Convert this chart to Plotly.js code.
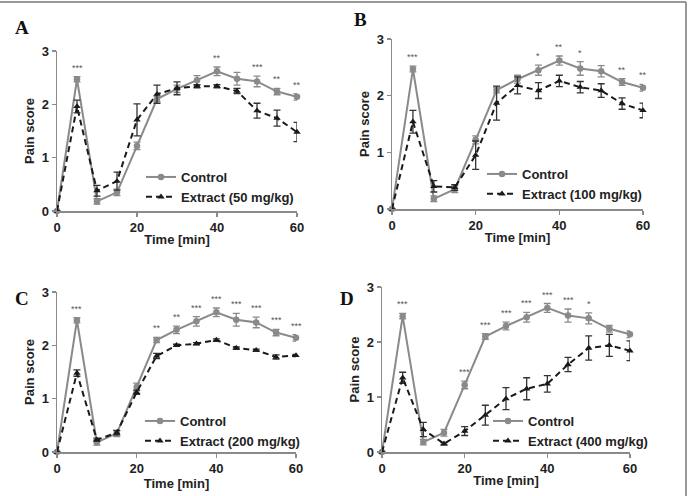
<!DOCTYPE html>
<html>
<head>
<meta charset="utf-8">
<script src="https://cdn.plot.ly/plotly-3.0.1.min.js"></script>
<style>html,body{margin:0;padding:0;background:#fff;}#chart{width:689px;height:496px;}</style>
</head>
<body>
<div id="chart"></div>
<script>
// ---- data ----
const time = [0, 5, 10, 15, 20, 25, 30, 35, 40, 45, 50, 55, 60];
const controlMean = [0, 2.47, 0.18, 0.35, 1.22, 2.10, 2.29, 2.45, 2.62, 2.48, 2.43, 2.24, 2.14];
const controlErr  = [0, 0.05, 0.05, 0.06, 0.07, 0.05, 0.07, 0.09, 0.08, 0.12, 0.10, 0.06, 0.06];

const extract50Mean  = [0, 1.96, 0.38, 0.56, 1.71, 2.19, 2.30, 2.34, 2.34, 2.25, 1.88, 1.74, 1.48];
const extract50Err   = [0, 0.12, 0.10, 0.17, 0.30, 0.17, 0.12, 0.03, 0.03, 0.05, 0.14, 0.15, 0.18];
const extract100Mean = [0, 1.54, 0.40, 0.38, 0.95, 1.87, 2.18, 2.09, 2.26, 2.15, 2.09, 1.86, 1.74];
const extract100Err  = [0, 0.20, 0.10, 0.05, 0.25, 0.30, 0.15, 0.14, 0.10, 0.10, 0.12, 0.10, 0.13];
const extract200Mean = [0, 1.48, 0.23, 0.36, 1.12, 1.80, 2.00, 2.03, 2.10, 1.95, 1.91, 1.78, 1.81];
const extract200Err  = [0, 0.06, 0.03, 0.04, 0.04, 0.05, 0.02, 0.02, 0.02, 0.02, 0.02, 0.04, 0.02];
const extract400Mean = [0, 1.35, 0.41, 0.15, 0.38, 0.67, 0.97, 1.15, 1.24, 1.59, 1.89, 1.94, 1.84];
const extract400Err  = [0, 0.10, 0.13, 0.02, 0.08, 0.18, 0.20, 0.20, 0.15, 0.13, 0.22, 0.20, 0.18];

const extractNames = ["Extract (50 mg/kg)", "Extract (100 mg/kg)", "Extract (200 mg/kg)", "Extract (400 mg/kg)"];
const panelLetters = ["A", "B", "C", "D"];
// significance marks above the control points, by time index
const sigA = ["", "***", "", "", "", "", "", "", "**", "", "***", "**", "**"];
const sigB = ["", "***", "", "", "", "", "", "*", "**", "*", "", "**", "**"];
const sigC = ["", "***", "", "", "", "**", "**", "***", "***", "***", "***", "***", "***"];
const sigD = ["", "***", "", "", "***", "***", "***", "***", "***", "***", "*", "", ""];

const xTicks = [0, 20, 40, 60];
const yTicks = [0, 1, 2, 3];

// ---- layout helpers ----
const W = 689, H = 496;
const px = (a, b) => [a / W, b / W];
const py = (top, bottom) => [1 - bottom / H, 1 - top / H];

const panels = [
  {xd: px(57, 297), yd: py(51, 211), ext: extract50Mean,  err: extract50Err,  sig: sigA,
   letter: [13, 28], leg: [141, 162]},
  {xd: px(392, 643), yd: py(39, 209), ext: extract100Mean, err: extract100Err, sig: sigB,
   letter: [352, 20], leg: [482, 159]},
  {xd: px(57, 296), yd: py(292, 452), ext: extract200Mean, err: extract200Err, sig: sigC,
   letter: [13, 298], leg: [140, 406]},
  {xd: px(382, 630), yd: py(287, 452), ext: extract400Mean, err: extract400Err, sig: sigD,
   letter: [338, 298], leg: [488, 406]},
];

const data = [];
const layout = {
  width: W, height: H,
  margin: {l: 0, r: 0, t: 0, b: 0},
  paper_bgcolor: "#fff", plot_bgcolor: "#fff",
  font: {family: "Liberation Sans, Arial, sans-serif", color: "#222"},
  showlegend: true,
  annotations: [],
  shapes: [
    {type: "line", xref: "paper", yref: "paper", x0: 0, x1: 686 / W, y0: 1 - 2 / H, y1: 1 - 2 / H,
     line: {color: "#777", width: 1.5}},
    {type: "line", xref: "paper", yref: "paper", x0: 686 / W, x1: 686 / W, y0: 0, y1: 1 - 2 / H,
     line: {color: "#777", width: 1.5}}
  ]
};

panels.forEach((p, i) => {
  const n = i + 1;
  const xa = n === 1 ? "x" : "x" + n;
  const ya = n === 1 ? "y" : "y" + n;
  const legName = n === 1 ? "legend" : "legend" + n;
  data.push({
    x: time, y: controlMean, xaxis: xa, yaxis: ya, name: "Control", legend: legName,
    type: "scatter", mode: "lines+markers", cliponaxis: false,
    line: {color: "#8a8a8a", width: 2},
    marker: {symbol: "circle", size: 6.5, color: "#8a8a8a"},
    error_y: {type: "data", array: controlErr, visible: true, color: "#8a8a8a", thickness: 1.3, width: 3.5}
  });
  data.push({
    x: time, y: p.ext, xaxis: xa, yaxis: ya, name: extractNames[i], legend: legName,
    type: "scatter", mode: "lines+markers", cliponaxis: false,
    line: {color: "#1a1a1a", width: 2, dash: "6px,4px"},
    marker: {symbol: "triangle-up", size: 6.5, color: "#1a1a1a"},
    error_y: {type: "data", array: p.err, visible: true, color: "#333", thickness: 1.3, width: 3.5}
  });
  const axisCommon = {
    showgrid: false, zeroline: false, showline: true, linecolor: "#8a8a8a", linewidth: 1.5,
    ticks: "outside", ticklen: 4, tickwidth: 1.5, tickcolor: "#8a8a8a",
    tickfont: {size: 13, weight: "bold", color: "#222"}, fixedrange: true
  };
  layout["xaxis" + (n === 1 ? "" : n)] = Object.assign({}, axisCommon, {
    domain: p.xd, anchor: ya, range: [0, 60], tickvals: xTicks, ticktext: xTicks.map(String),
    title: {text: "Time [min]", font: {size: 13, weight: "bold", color: "#222"}, standoff: 1}
  });
  layout["yaxis" + (n === 1 ? "" : n)] = Object.assign({}, axisCommon, {
    domain: p.yd, anchor: xa, range: [0, 3], tickvals: yTicks, ticktext: yTicks.map(String),
    title: {text: "Pain score", font: {size: 13, weight: "bold", color: "#222"}, standoff: 4}
  });
  layout[legName] = {
    x: p.leg[0] / W, y: 1 - p.leg[1] / H, xanchor: "left", yanchor: "top",
    bgcolor: "rgba(0,0,0,0)", font: {size: 13, weight: "bold", color: "#222"}, tracegroupgap: 0
  };
  // panel letter
  layout.annotations.push({
    xref: "paper", yref: "paper", x: p.letter[0] / W, y: 1 - p.letter[1] / H,
    xanchor: "left", yanchor: "middle", showarrow: false, text: "<b>" + panelLetters[i] + "</b>",
    font: {family: "Liberation Serif, Times New Roman, serif", size: 19, color: "#111"}
  });
  // significance stars
  p.sig.forEach((s, k) => {
    if (!s) return;
    layout.annotations.push({
      xref: xa, yref: ya, x: time[k], y: controlMean[k] + controlErr[k],
      yanchor: "bottom", yshift: 2, showarrow: false, text: s,
      font: {size: 9, color: "#555"}
    });
  });
});

Plotly.newPlot("chart", data, layout, {displayModeBar: false, staticPlot: true});
</script>
</body>
</html>
